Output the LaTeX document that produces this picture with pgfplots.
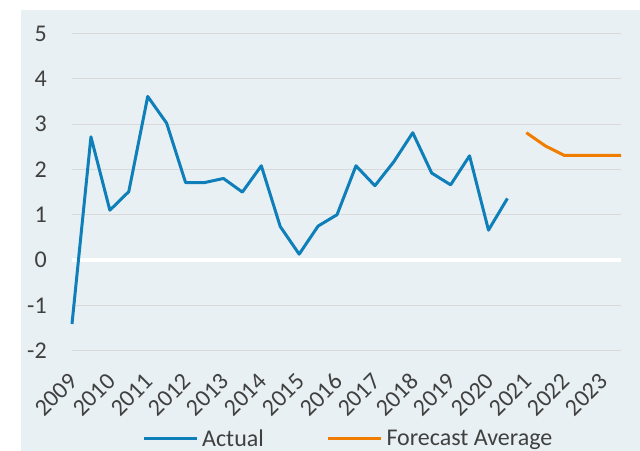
\documentclass[border=0pt]{standalone}
\usepackage{pgfplots}
\pgfplotsset{compat=1.18}
\usepackage{fontspec}
\setmainfont{Carlito}
\definecolor{bg}{HTML}{E8F0F3}
\definecolor{txt}{HTML}{404040}
\definecolor{blu}{HTML}{0E7FB9}
\definecolor{org}{HTML}{F17D00}
\definecolor{grd}{HTML}{D9D9D9}
\begin{document}
\begin{tikzpicture}
\useasboundingbox (-54pt,-75.2pt) rectangle (426pt,263pt);
\fill[bg] (-38.25pt,-75.2pt) rectangle (426pt,255.5pt);
\begin{axis}[
  at={(0,0)}, anchor=south west,
  scale only axis, width=411.75pt, height=237.9pt,
  xmin=2009, xmax=2023.5, ymin=-2, ymax=5,
  axis line style={draw=none},
  major tick length=0pt,
  xtick={2009,2010,...,2023},
  ytick={-2,-1,...,5},
  ymajorgrids, grid style={grd, line width=0.75pt},
  /pgf/number format/.cd, 1000 sep={}, assume math mode=true, /pgfplots/.cd,
  tick label style={font=\fontsize{18}{21}\selectfont, text=txt},
  yticklabel style={anchor=east, inner sep=0pt, xshift=-18.75pt},
  xticklabel style={rotate=45, anchor=east, inner sep=0pt, xshift=-13.35pt, yshift=-14.95pt},
  legend columns=2,
  legend style={at={(0.505,0)}, anchor=center, yshift=-66pt, draw=none, fill=none,
    font=\fontsize{18}{21}\selectfont, text=txt,
    /tikz/every even column/.append style={column sep=44pt},
    nodes={inner xsep=3pt}},
  legend image code/.code={\draw[#1] (0pt,0pt) -- (39.75pt,0pt);},
  clip=false,
]
\draw[white, line width=3pt] (axis cs:2009,0) -- (axis cs:2023.5,0);
\addplot[blu, line width=2.25pt, line join=round] coordinates {
(2009.0,-1.41) (2009.5,2.72) (2010.0,1.10) (2010.5,1.51) (2011.0,3.61) (2011.5,3.02)
(2012.0,1.71) (2012.5,1.71) (2013.0,1.80) (2013.5,1.50) (2014.0,2.08) (2014.5,0.74)
(2015.0,0.13) (2015.5,0.75) (2016.0,1.00) (2016.5,2.08) (2017.0,1.64) (2017.5,2.17)
(2018.0,2.81) (2018.5,1.92) (2019.0,1.66) (2019.5,2.30) (2020.0,0.66) (2020.5,1.36)
};
\addlegendentry{Actual}
\addplot[org, line width=2.25pt, line join=round] coordinates {
(2021.0,2.81) (2021.5,2.52) (2022.0,2.31) (2022.5,2.31) (2023.0,2.31) (2023.5,2.31)
};
\addlegendentry{Forecast Average}
\end{axis}
\end{tikzpicture}
\end{document}
